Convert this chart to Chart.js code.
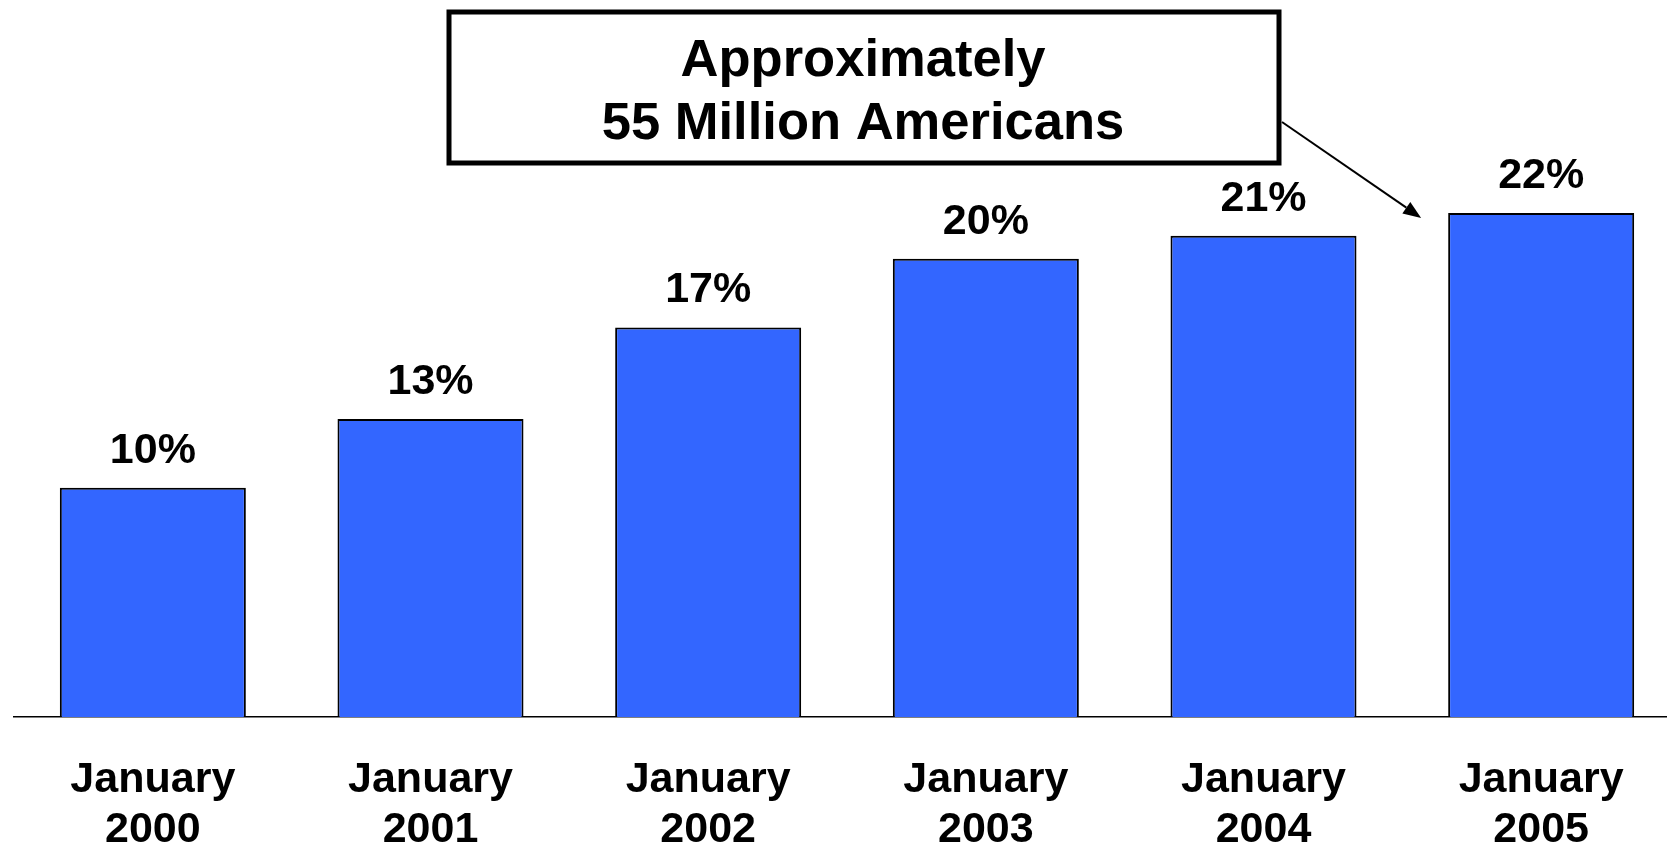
<!DOCTYPE html>
<html>
<head>
<meta charset="utf-8">
<title>Share of Americans, 2000–2005</title>
<script src="https://cdn.jsdelivr.net/npm/chart.js@4.4.1/dist/chart.umd.min.js"></script>
<style>
  html, body { margin: 0; padding: 0; background: #fff; overflow: hidden; }
  #wrap { position: relative; width: 1680px; height: 848px; }
</style>
</head>
<body>
<div id="wrap"><canvas id="chart" width="1680" height="848"></canvas></div>
<script>
// data
const months = ['January', 'January', 'January', 'January', 'January', 'January'];
const years  = ['2000', '2001', '2002', '2003', '2004', '2005'];
const shares = [10, 13, 17, 20, 21, 22];
const calloutLines = ['Approximately', '55 Million Americans'];

const FONT = '"Liberation Sans", Arial, Helvetica, sans-serif';

// percentage labels above each bar
const valueLabels = {
  id: 'valueLabels',
  afterDatasetsDraw(chart) {
    const { ctx } = chart;
    const meta = chart.getDatasetMeta(0);
    ctx.save();
    ctx.font = `bold 43px ${FONT}`;
    ctx.fillStyle = '#000';
    ctx.textAlign = 'center';
    ctx.textBaseline = 'alphabetic';
    meta.data.forEach((bar, i) => {
      ctx.fillText(shares[i] + '%', bar.x, bar.y - 25);
    });
    ctx.restore();
  }
};

// boxed note with an arrow to the last bar
const callout = {
  id: 'callout',
  afterDraw(chart) {
    const { ctx } = chart;
    const last = chart.getDatasetMeta(0).data[shares.length - 1];

    ctx.save();
    ctx.strokeStyle = '#000';
    ctx.lineWidth = 5;
    ctx.strokeRect(449, 12, 830, 151);

    ctx.fillStyle = '#000';
    ctx.font = `bold 51px ${FONT}`;
    ctx.textAlign = 'center';
    ctx.textBaseline = 'alphabetic';
    [76, 139].forEach((y, i) => {
      ctx.save();
      ctx.translate(863, y);
      ctx.scale(1.03, 1);
      ctx.fillText(calloutLines[i], 0, 0);
      ctx.restore();
    });

    // arrow
    const x0 = 1282, y0 = 122;
    const x1 = last.x - last.width / 2 - 27, y1 = last.y + 5;
    const ang = Math.atan2(y1 - y0, x1 - x0);
    const head = 18, half = 7;
    ctx.lineWidth = 2;
    ctx.beginPath();
    ctx.moveTo(x0, y0);
    ctx.lineTo(x1 - Math.cos(ang) * head, y1 - Math.sin(ang) * head);
    ctx.stroke();
    ctx.beginPath();
    ctx.moveTo(x1, y1);
    ctx.lineTo(x1 - Math.cos(ang) * head - Math.sin(ang) * half,
               y1 - Math.sin(ang) * head + Math.cos(ang) * half);
    ctx.lineTo(x1 - Math.cos(ang) * head + Math.sin(ang) * half,
               y1 - Math.sin(ang) * head - Math.cos(ang) * half);
    ctx.closePath();
    ctx.fill();
    ctx.restore();
  }
};

new Chart(document.getElementById('chart').getContext('2d'), {
  type: 'bar',
  data: {
    labels: months.map((m, i) => [m, years[i]]),
    datasets: [{
      data: shares,
      backgroundColor: '#3366FF',
      borderColor: '#000',
      borderWidth: 2,
      categoryPercentage: 1,
      barPercentage: 0.67
    }]
  },
  options: {
    responsive: false,
    animation: false,
    layout: { padding: { left: 14, right: 0, top: 80, bottom: 0 } },
    plugins: {
      legend: { display: false },
      tooltip: { enabled: false }
    },
    scales: {
      x: {
        grid: { display: false, drawTicks: false },
        border: { display: true, color: '#000', width: 1.5 },
        ticks: {
          color: '#000',
          font: { family: FONT, size: 43, weight: 'bold', lineHeight: 1.17 },
          padding: 38,
          maxRotation: 0,
          autoSkip: false
        },
        afterFit: (s) => { s.height = 131; }
      },
      y: { display: false, min: 0, max: 27.8 }
    }
  },
  plugins: [valueLabels, callout]
});
</script>
</body>
</html>
